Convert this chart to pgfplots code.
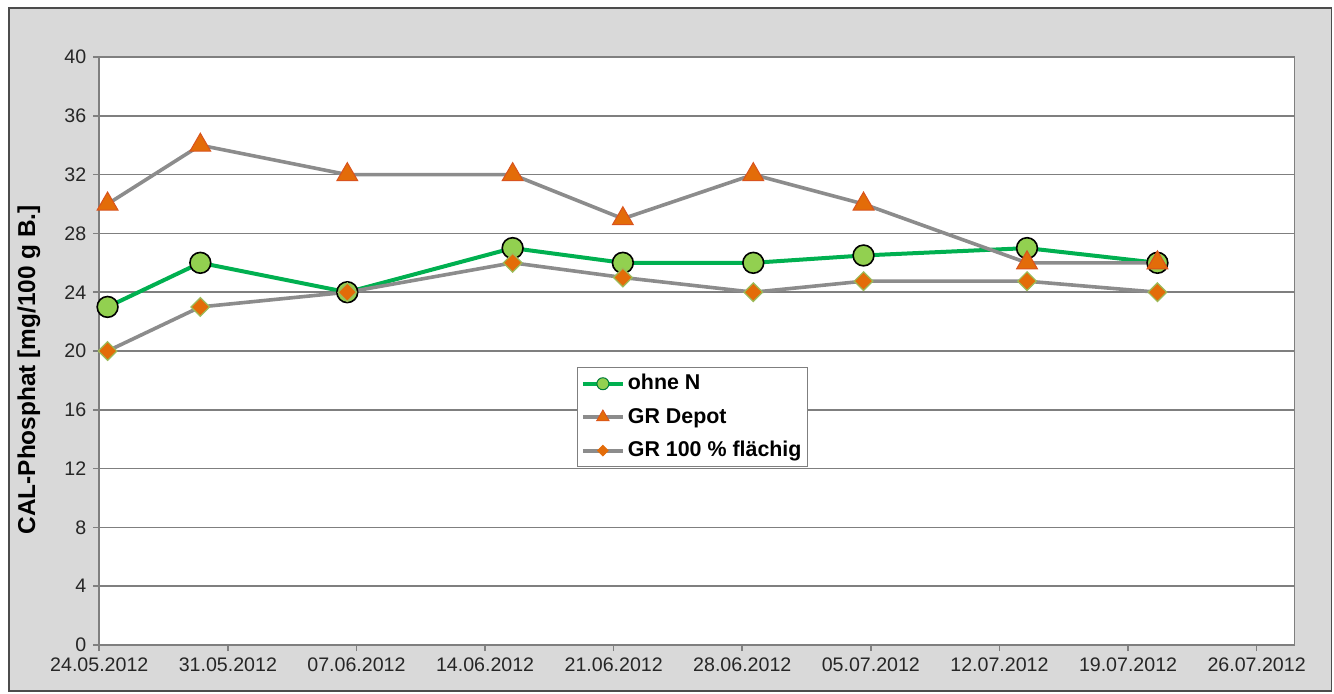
\documentclass[border=0pt]{standalone}
\usepackage{fontspec}
\setmainfont{Liberation Sans}
\usepackage{pgfplots}
\pgfplotsset{compat=1.18}
\usetikzlibrary{backgrounds}
\definecolor{bg}{HTML}{D9D9D9}
\definecolor{gridgray}{HTML}{7F7F7F}
\definecolor{linegray}{HTML}{8C8C8C}
\definecolor{grn}{HTML}{00B050}
\definecolor{ltgrn}{HTML}{92D050}
\definecolor{org}{HTML}{E36C09}
\definecolor{orgedge}{HTML}{D9531E}
\definecolor{olive}{HTML}{9BBB59}
\begin{document}
\begin{tikzpicture}
\begin{axis}[name=ax, at={(0,0)}, anchor=south west,
  scale only axis, width=597.5pt, height=294pt,
  xmin=0, xmax=65.05, ymin=0, ymax=40,
  ytick={0,4,...,40},
  xtick={0,7,...,63},
  xticklabels={24.05.2012,31.05.2012,07.06.2012,14.06.2012,21.06.2012,28.06.2012,05.07.2012,12.07.2012,19.07.2012,26.07.2012},
  ymajorgrids,
  grid style={gridgray, line width=0.8pt},
  axis line style={gridgray, line width=0.8pt},
  tick style={gridgray, line width=0.8pt},
  tick align=outside, tick pos=left,
  major tick length=3pt,
  ticklabel style={font=\fontsize{9.8}{11}\selectfont, text=black!85},
  /pgf/number format/assume math mode=true,
  ylabel={\bfseries CAL-Phosphat [mg/100 g B.]},
  ylabel style={font=\fontsize{12.2}{14}\selectfont, at={(axis description cs:-0.059,0.468)}, anchor=center},
  axis background/.style={fill=white},
  legend style={at={(axis description cs:0.4,0.473)}, anchor=north west,
    draw=gridgray, line width=0.6pt, fill=white,
    font=\fontsize{10.7}{12}\selectfont\bfseries,
    row sep=3.6pt, inner sep=1.5pt, inner xsep=1.5pt,
    nodes={inner xsep=1.5pt}},
  legend cell align=left,
  legend image code/.code={\draw[#1, mark repeat=2, mark phase=2] plot coordinates {(0pt,0pt) (10pt,0pt) (20pt,0pt)};},
  clip=false,
]
\addlegendimage{grn, line width=2pt, mark=*, mark size=3pt, mark options={fill=ltgrn, draw=grn!70!black, line width=0.5pt}}
\addlegendimage{linegray, line width=2pt, mark=triangle*, mark size=3.6pt, mark options={fill=org, draw=orgedge, line width=0.4pt}}
\addlegendimage{linegray, line width=2pt, mark=square*, mark size=1.9pt, mark options={fill=org, draw=org, line width=0.4pt, rotate=45}}
\addplot[forget plot, grn, line width=2pt, mark=*, mark size=5.2pt,
  mark options={fill=ltgrn, draw=black, line width=0.8pt}]
  coordinates {(0.45,23) (5.5,26) (13.5,24) (22.5,27) (28.5,26) (35.6,26) (41.6,26.5) (50.5,27) (57.6,26)};
\addplot[forget plot, linegray, line width=1.8pt, mark=triangle*, mark size=6pt,
  mark options={fill=org, draw=orgedge, line width=0.5pt}]
  coordinates {(0.45,30) (5.5,34) (13.5,32) (22.5,32) (28.5,29) (35.6,32) (41.6,30) (50.5,26) (57.6,26)};
\addplot[forget plot, linegray, line width=1.8pt, mark=square*, mark size=3.3pt,
  mark options={fill=org, draw=olive, line width=0.6pt, rotate=45}]
  coordinates {(0.45,20) (5.5,23) (13.5,24) (22.5,26) (28.5,25) (35.6,24) (41.6,24.75) (50.5,24.75) (57.6,24)};
\legend{ohne N, GR Depot, GR 100 \% flächig}
\end{axis}
\begin{scope}[on background layer]
\fill[bg] ([shift={(-45.15pt,-23pt)}]ax.south west) rectangle ([shift={(616pt,318.5pt)}]ax.south west);
\draw[black!70, line width=0.8pt] ([shift={(-45.15pt,-23pt)}]ax.south west) rectangle ([shift={(616pt,318.5pt)}]ax.south west);
\end{scope}
\pgfresetboundingbox
\useasboundingbox ([shift={(-49.65pt,-24pt)}]ax.south west) rectangle ([shift={(617.35pt,322.5pt)}]ax.south west);
\end{tikzpicture}
\end{document}
